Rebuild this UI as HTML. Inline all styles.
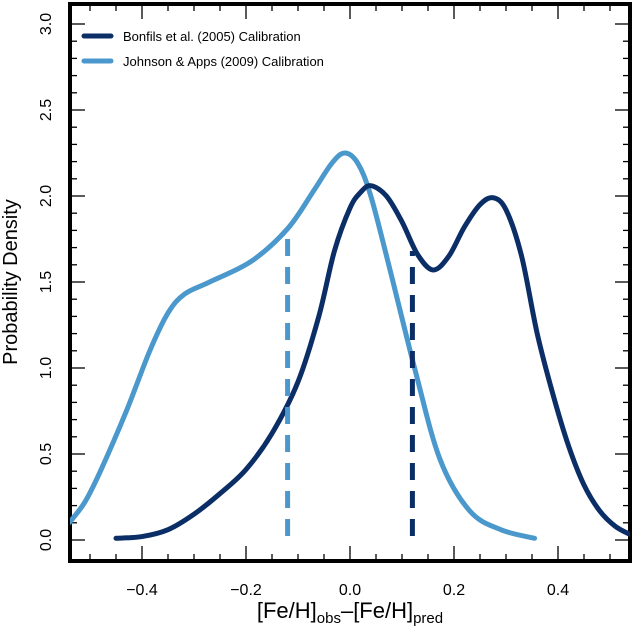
<!DOCTYPE html>
<html><head><meta charset="utf-8"><style>
body{margin:0;background:#fff;}
svg{display:block;font-family:"Liberation Sans",Arial,sans-serif;}
</style></head><body>
<svg id="chart" width="633" height="631" viewBox="0 0 633 631" xmlns="http://www.w3.org/2000/svg">
<g id="axes"></g>
<g id="series"></g>
<g id="legend">
  <line x1="84" y1="36" x2="111" y2="36" stroke="#0c2e66" stroke-width="5" stroke-linecap="round"/>
  <text x="123" y="41" font-size="13">Bonfils et al. (2005) Calibration</text>
  <line x1="84" y1="61" x2="111" y2="61" stroke="#4a98cc" stroke-width="5" stroke-linecap="round"/>
  <text x="123" y="66" font-size="13">Johnson &amp; Apps (2009) Calibration</text>
</g>
<text x="17" y="282" font-size="20" text-anchor="middle" transform="rotate(-90 17 282)">Probability Density</text>
<text x="350" y="618" font-size="22" text-anchor="middle">[Fe/H]<tspan font-size="15" dy="5">obs</tspan><tspan dy="-5">–[Fe/H]</tspan><tspan font-size="15" dy="5">pred</tspan></text>
</svg>
<script>
const xTicks=[-0.4,-0.2,0.0,0.2,0.4];
const xTickLabels=["−0.4","−0.2","0.0","0.2","0.4"];
const yTicks=[0,0.5,1.0,1.5,2.0,2.5,3.0];
const yTickLabels=["0.0","0.5","1.0","1.5","2.0","2.5","3.0"];
const bonfilsX=[-0.45,-0.4,-0.35,-0.3,-0.25,-0.2,-0.15,-0.1,-0.06,-0.03,0.0,0.02,0.04,0.07,0.1,0.13,0.16,0.19,0.22,0.25,0.275,0.3,0.33,0.36,0.39,0.42,0.45,0.48,0.51,0.54];
const bonfilsY=[0.01,0.02,0.06,0.15,0.27,0.41,0.62,0.92,1.3,1.68,1.93,2.02,2.06,2.0,1.85,1.66,1.57,1.65,1.82,1.95,1.99,1.92,1.65,1.2,0.85,0.55,0.32,0.17,0.08,0.03];
const johnsonX=[-0.54,-0.51,-0.48,-0.43,-0.385,-0.35,-0.318,-0.27,-0.19,-0.12,-0.07,-0.035,-0.01,0.015,0.04,0.077,0.125,0.173,0.23,0.29,0.355];
const johnsonY=[0.1,0.22,0.4,0.75,1.1,1.32,1.43,1.5,1.62,1.81,2.03,2.19,2.25,2.19,2.0,1.57,0.99,0.47,0.17,0.06,0.01];
const medianX=[-0.12,0.12];
const medianTop=[1.75,1.68];
const L=70,R=630,T=4,B=561;
const sx=v=>350+v*520;
const sy=v=>540-v*172;
const NS="http://www.w3.org/2000/svg";
const axes=document.getElementById('axes'),ser=document.getElementById('series');
function mk(tag,attrs,parent){const e=document.createElementNS(NS,tag);for(const k in attrs)e.setAttribute(k,attrs[k]);parent.appendChild(e);return e;}
for(let i=-10;i<=10;i++){const v=i*0.05;const x=sx(v);if(x<L+2||x>R-2)continue;const major=Math.abs(Math.round(v*100)%20)===0;const len=major?15:7;
 const t=mk('line',{x1:x,x2:x,y1:B,y2:B-len,stroke:'#000','stroke-width':1.3},axes);
 
 
 const t2=mk('line',{x1:x,x2:x,y1:T,y2:T+len,stroke:'#000','stroke-width':1.3},axes);
 
 }
for(let i=0;i<=30;i++){const v=i*0.1;const y=sy(v);if(y<T+2)continue;const major=i%5===0;const len=major?15:7;
 const t=mk('line',{x1:L,x2:L+len,y1:y,y2:y,stroke:'#000','stroke-width':1.3},axes);
 
 
 const t2=mk('line',{x1:R,x2:R-len,y1:y,y2:y,stroke:'#000','stroke-width':1.3},axes);
 
 }
xTicks.forEach((v,i)=>{const t=mk('text',{x:sx(v),y:595,'font-size':16,'text-anchor':'middle'},axes);t.textContent=xTickLabels[i];
 
 });
yTicks.forEach((v,i)=>{const y=sy(v);const t=mk('text',{x:51,y:y,'font-size':16,'text-anchor':'middle',transform:`rotate(-90 51 ${y})`},axes);t.textContent=yTickLabels[i];
 
 });
const frame=mk('rect',{x:L,y:T,width:R-L,height:B-T,fill:'none',stroke:'#000','stroke-width':4},axes);


function smooth(xs,ys){const p=xs.map((x,i)=>[sx(x),sy(ys[i])]);let d=`M${p[0][0]},${p[0][1]}`;
 for(let i=0;i<p.length-1;i++){const p0=p[i-1]||p[i],p1=p[i],p2=p[i+1],p3=p[i+2]||p2;
 const c1=[p1[0]+(p2[0]-p0[0])/6,p1[1]+(p2[1]-p0[1])/6],c2=[p2[0]-(p3[0]-p1[0])/6,p2[1]-(p3[1]-p1[1])/6];
 d+=` C${c1[0]},${c1[1]} ${c2[0]},${c2[1]} ${p2[0]},${p2[1]}`;}return d;}
const cp=mk('clipPath',{id:'clip'},ser);mk('rect',{x:L,y:T,width:R-L,height:B-T},cp);
const c1=mk('path',{d:smooth(johnsonX,johnsonY),fill:'none',stroke:'#4a98cc','stroke-width':5,'stroke-linecap':'round','stroke-linejoin':'round','clip-path':'url(#clip)'},ser);


const c2=mk('path',{d:smooth(bonfilsX,bonfilsY),fill:'none',stroke:'#0c2e66','stroke-width':5,'stroke-linecap':'round','stroke-linejoin':'round','clip-path':'url(#clip)'},ser);


const cols=['#4a98cc','#0c2e66'];
medianX.forEach((v,i)=>{const l=mk('line',{x1:sx(v),x2:sx(v),y1:sy(0)-4,y2:sy(medianTop[i]),stroke:cols[i],'stroke-width':5,'stroke-dasharray':'17 11'},ser);
 
 });
</script>
</body></html>
